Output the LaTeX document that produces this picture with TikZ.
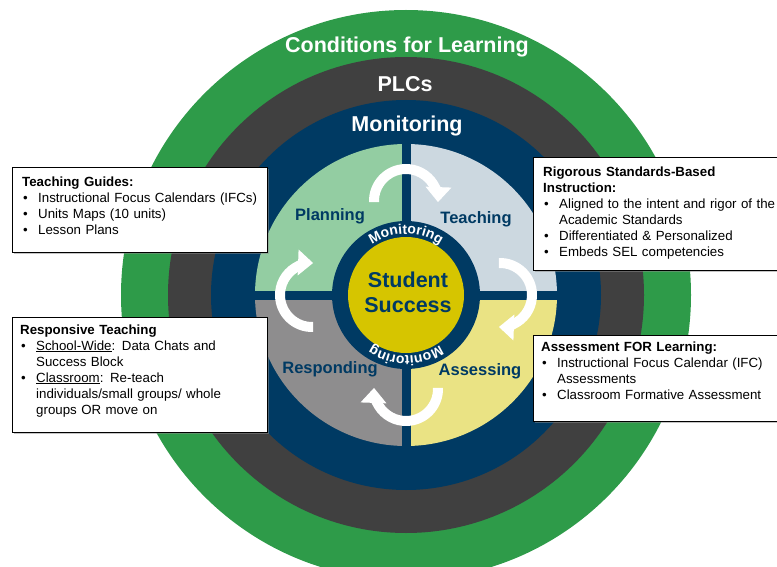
\documentclass[tikz,border=0pt]{standalone}
\usepackage{fontspec}
\setmainfont{Liberation Sans}
\usetikzlibrary{arrows.meta,calc,decorations.text,shadows}

\definecolor{ringGreen}{RGB}{46,155,73}
\definecolor{ringGray}{RGB}{64,64,64}
\definecolor{ringNavy}{RGB}{0,58,99}
\definecolor{quadPlan}{RGB}{147,205,162}
\definecolor{quadTeach}{RGB}{204,216,224}
\definecolor{quadResp}{RGB}{142,141,142}
\definecolor{quadAssess}{RGB}{234,227,132}
\definecolor{successYellow}{RGB}{214,197,0}

\newlength{\bulletIndent}
\setlength{\bulletIndent}{16pt}
\newcommand{\bulletItem}[1]{\par\hangindent=\bulletIndent\hangafter=1\noindent\hbox to\bulletIndent{\hskip1pt\textbullet\hfil}#1}
\newcommand{\innerRingFont}{\fontsize{14}{14}\selectfont\bfseries\color{white}}

\begin{document}
\begin{tikzpicture}
[x=1pt,y=1pt,
  ringLabel/.style={text=white,font=\fontsize{21.5}{21.5}\selectfont\bfseries,anchor=base},
  quadLabel/.style={text=ringNavy,font=\fontsize{16.5}{16.5}\selectfont\bfseries,anchor=base},
  cycleArrow/.style={white,line width=10pt,-{Triangle[width=25pt,length=15pt]}},
  callBox/.style={draw=black,fill=white,line width=0.9pt,anchor=north west,inner sep=0pt,
    drop shadow={shadow xshift=1.2pt,shadow yshift=-1.2pt,fill=black!45}},
  callText/.style={anchor=north west,inner sep=0pt,align=left,text width=240pt,
    font=\fontsize{13.3}{16}\selectfont}]
\useasboundingbox (0,0) rectangle (777,-567);
\coordinate (C) at (406,-295);

%% rings
\fill[ringGreen] (C) circle (285);
\fill[ringGray] (C) circle (238);
\fill[ringNavy] (C) circle (195);

%% quadrants and the cross between them
\foreach \quadname/\quadcol/\a in {plan/quadPlan/90,teach/quadTeach/0,assess/quadAssess/-90,resp/quadResp/180}
{
  \fill[\quadcol] (C) -- ($(C)+(\a:151)$) arc (\a:\a+90:151) -- cycle;
}
\draw[ringNavy,line width=9pt] ($(C)+(-155,0)$) -- ($(C)+(155,0)$);
\draw[ringNavy,line width=9pt] ($(C)+(0,-155)$) -- ($(C)+(0,155)$);

%% centre
\fill[ringNavy] (C) circle (74);
\node[circle,fill=successYellow,minimum size=116pt,inner sep=0pt] (success) at (C) {};
\node[text=ringNavy,align=center,font=\fontsize{21.5}{25}\selectfont\bfseries] (successText) at (408,-292) {Student\\Success};
\path[decorate,decoration={text along path,text={|\innerRingFont|Monitoring},text align=center}]
  ($(C)+(155:61)$) arc (155:25:61);
\path[decorate,decoration={text along path,text={|\innerRingFont|Monitoring},text align=center}]
  ($(C)+(-25:61)$) arc (-25:-155:61);

%% cycle arrows
\foreach \d in {90,0,-90,180}
{
  \draw[cycleArrow] ($(C)+(\d:94)+(\d+92:32)$) arc (\d+92:\d-92:32);
}

%% ring and quadrant labels
\node[ringLabel] (conditions) at (407,-53) {Conditions for Learning};
\node[ringLabel] (plcs) at (405,-92) {PLCs};
\node[ringLabel] (monitoring) at (407,-132) {Monitoring};
\node[quadLabel] (planning) at (330,-220) {Planning};
\node[quadLabel] (teaching) at (476,-223) {Teaching};
\node[quadLabel] (responding) at (330,-373) {Responding};
\node[quadLabel] (assessing) at (480,-375) {Assessing};

%% call-outs
\node[callBox,minimum width=255pt,minimum height=85pt] (guideBox) at (12,-167) {};
\node[callText] (guideText) at ($(guideBox.north west)+(10,-9.3)$)
  {\noindent\textbf{Teaching Guides:}\bulletItem{Instructional Focus Calendars (IFCs)}\bulletItem{Units Maps (10 units)}\bulletItem{Lesson Plans}\par};
\node[callBox,minimum width=255pt,minimum height=115pt] (respBox) at (12,-317) {};
\node[callText] (respText) at ($(respBox.north west)+(8,-7.3)$)
  {\noindent\textbf{Responsive Teaching}\bulletItem{\underline{School-Wide}: Data Chats and\newline Success Block}\bulletItem{\underline{Classroom}: Re-teach\newline individuals/small groups/ whole\newline groups OR move on}\par};
\node[callBox,minimum width=247pt,minimum height=113pt] (rigorBox) at (533,-157) {};
\node[callText] (rigorText) at ($(rigorBox.north west)+(10,-9.3)$)
  {\noindent\textbf{Rigorous Standards-Based\newline Instruction:}\bulletItem{Aligned to the intent and rigor of the\newline Academic Standards}\bulletItem{Differentiated \& Personalized}\bulletItem{Embeds SEL competencies}\par};
\node[callBox,minimum width=247pt,minimum height=86pt] (assessBox) at (533,-335) {};
\node[callText] (assessText) at ($(assessBox.north west)+(8,-6.3)$)
  {\noindent\textbf{Assessment FOR Learning:}\bulletItem{Instructional Focus Calendar (IFC)\newline Assessments}\bulletItem{Classroom Formative Assessment}\par};
\end{tikzpicture}
\end{document}
